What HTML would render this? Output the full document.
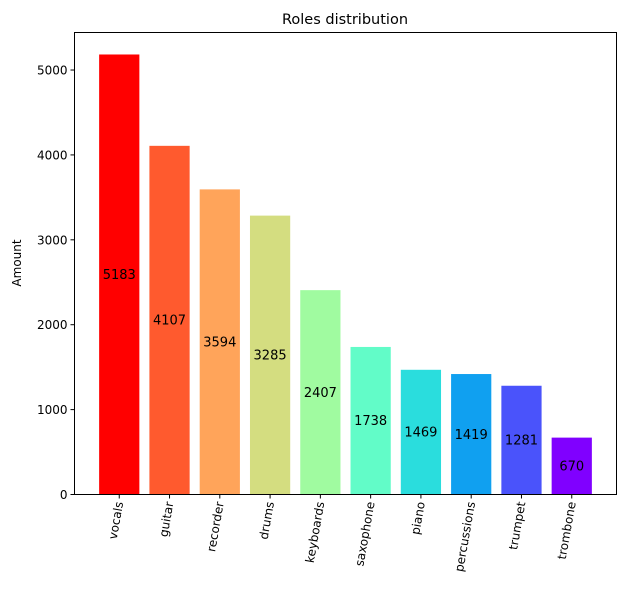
<!DOCTYPE html>
<html><head><meta charset="utf-8"><style>
body{margin:0;background:#fff;}
svg text{font-family:"DejaVu Sans","Liberation Sans",sans-serif;}
</style></head><body>
<svg id="chart" width="626" height="596" xmlns="http://www.w3.org/2000/svg">
<rect width="626" height="596" fill="#fff"/>
<text x="345" y="24" font-size="14.5" text-anchor="middle">Roles distribution</text>
<text transform="translate(21,263) rotate(-90)" font-size="12" text-anchor="middle">Amount</text>
<g id="bars"></g>
<g id="yticks"></g>
<g id="xticks"></g>
<rect x="74.5" y="32.5" width="542" height="462" fill="none" stroke="#000" stroke-width="1"/>
</svg>
<script>
const categories=["vocals","guitar","recorder","drums","keyboards","saxophone","piano","percussions","trumpet","trombone"];
const values=[5183,4107,3594,3285,2407,1738,1469,1419,1281,670];
const colors=["#ff0000","#ff5a2e","#ffa45a","#d4dd80","#a0fba0","#62fcc8","#2adddd","#10a0f0","#4a53fb","#8000ff"];
const yTicks=[0,1000,2000,3000,4000,5000];
const NS="http://www.w3.org/2000/svg";
const L=74.5,R=616.5,T=32.5,B=494.5;
const yMax=5442;
const xMin=-0.89,xMax=9.89;
function x(i){return L+(i-xMin)/(xMax-xMin)*(R-L);}
function y(v){return B-v/yMax*(B-T);}
function mk(t,a,p){const e=document.createElementNS(NS,t);for(const k in a)e.setAttribute(k,a[k]);p.appendChild(e);return e;}
const gb=document.getElementById('bars'),gy=document.getElementById('yticks'),gx=document.getElementById('xticks');
categories.forEach((c,i)=>{
  const w=(x(0.4)-x(-0.4));
  const r=mk('rect',{x:x(i)-w/2,y:y(values[i]),width:w,height:B-y(values[i]),fill:colors[i]},gb);
  
  
  const t=mk('text',{x:x(i),y:y(values[i]/2)+4.5,'font-size':13,'text-anchor':'middle'},gb);
  t.textContent=values[i];
  
  
  mk('line',{x1:x(i),x2:x(i),y1:B,y2:B+4,stroke:'#000'},gx);
  const tl=mk('text',{transform:`translate(${x(i)+4},${B+8}) rotate(-80)`,'font-size':12,'text-anchor':'end'},gx);
  tl.textContent=c;
  
  
});
yTicks.forEach(v=>{
  mk('line',{x1:L-4,x2:L,y1:y(v),y2:y(v),stroke:'#000'},gy);
  const t=mk('text',{x:L-7,y:y(v)+4.5,'font-size':12,'text-anchor':'end'},gy);
  t.textContent=v;
  
  
});
</script>
</body></html>
